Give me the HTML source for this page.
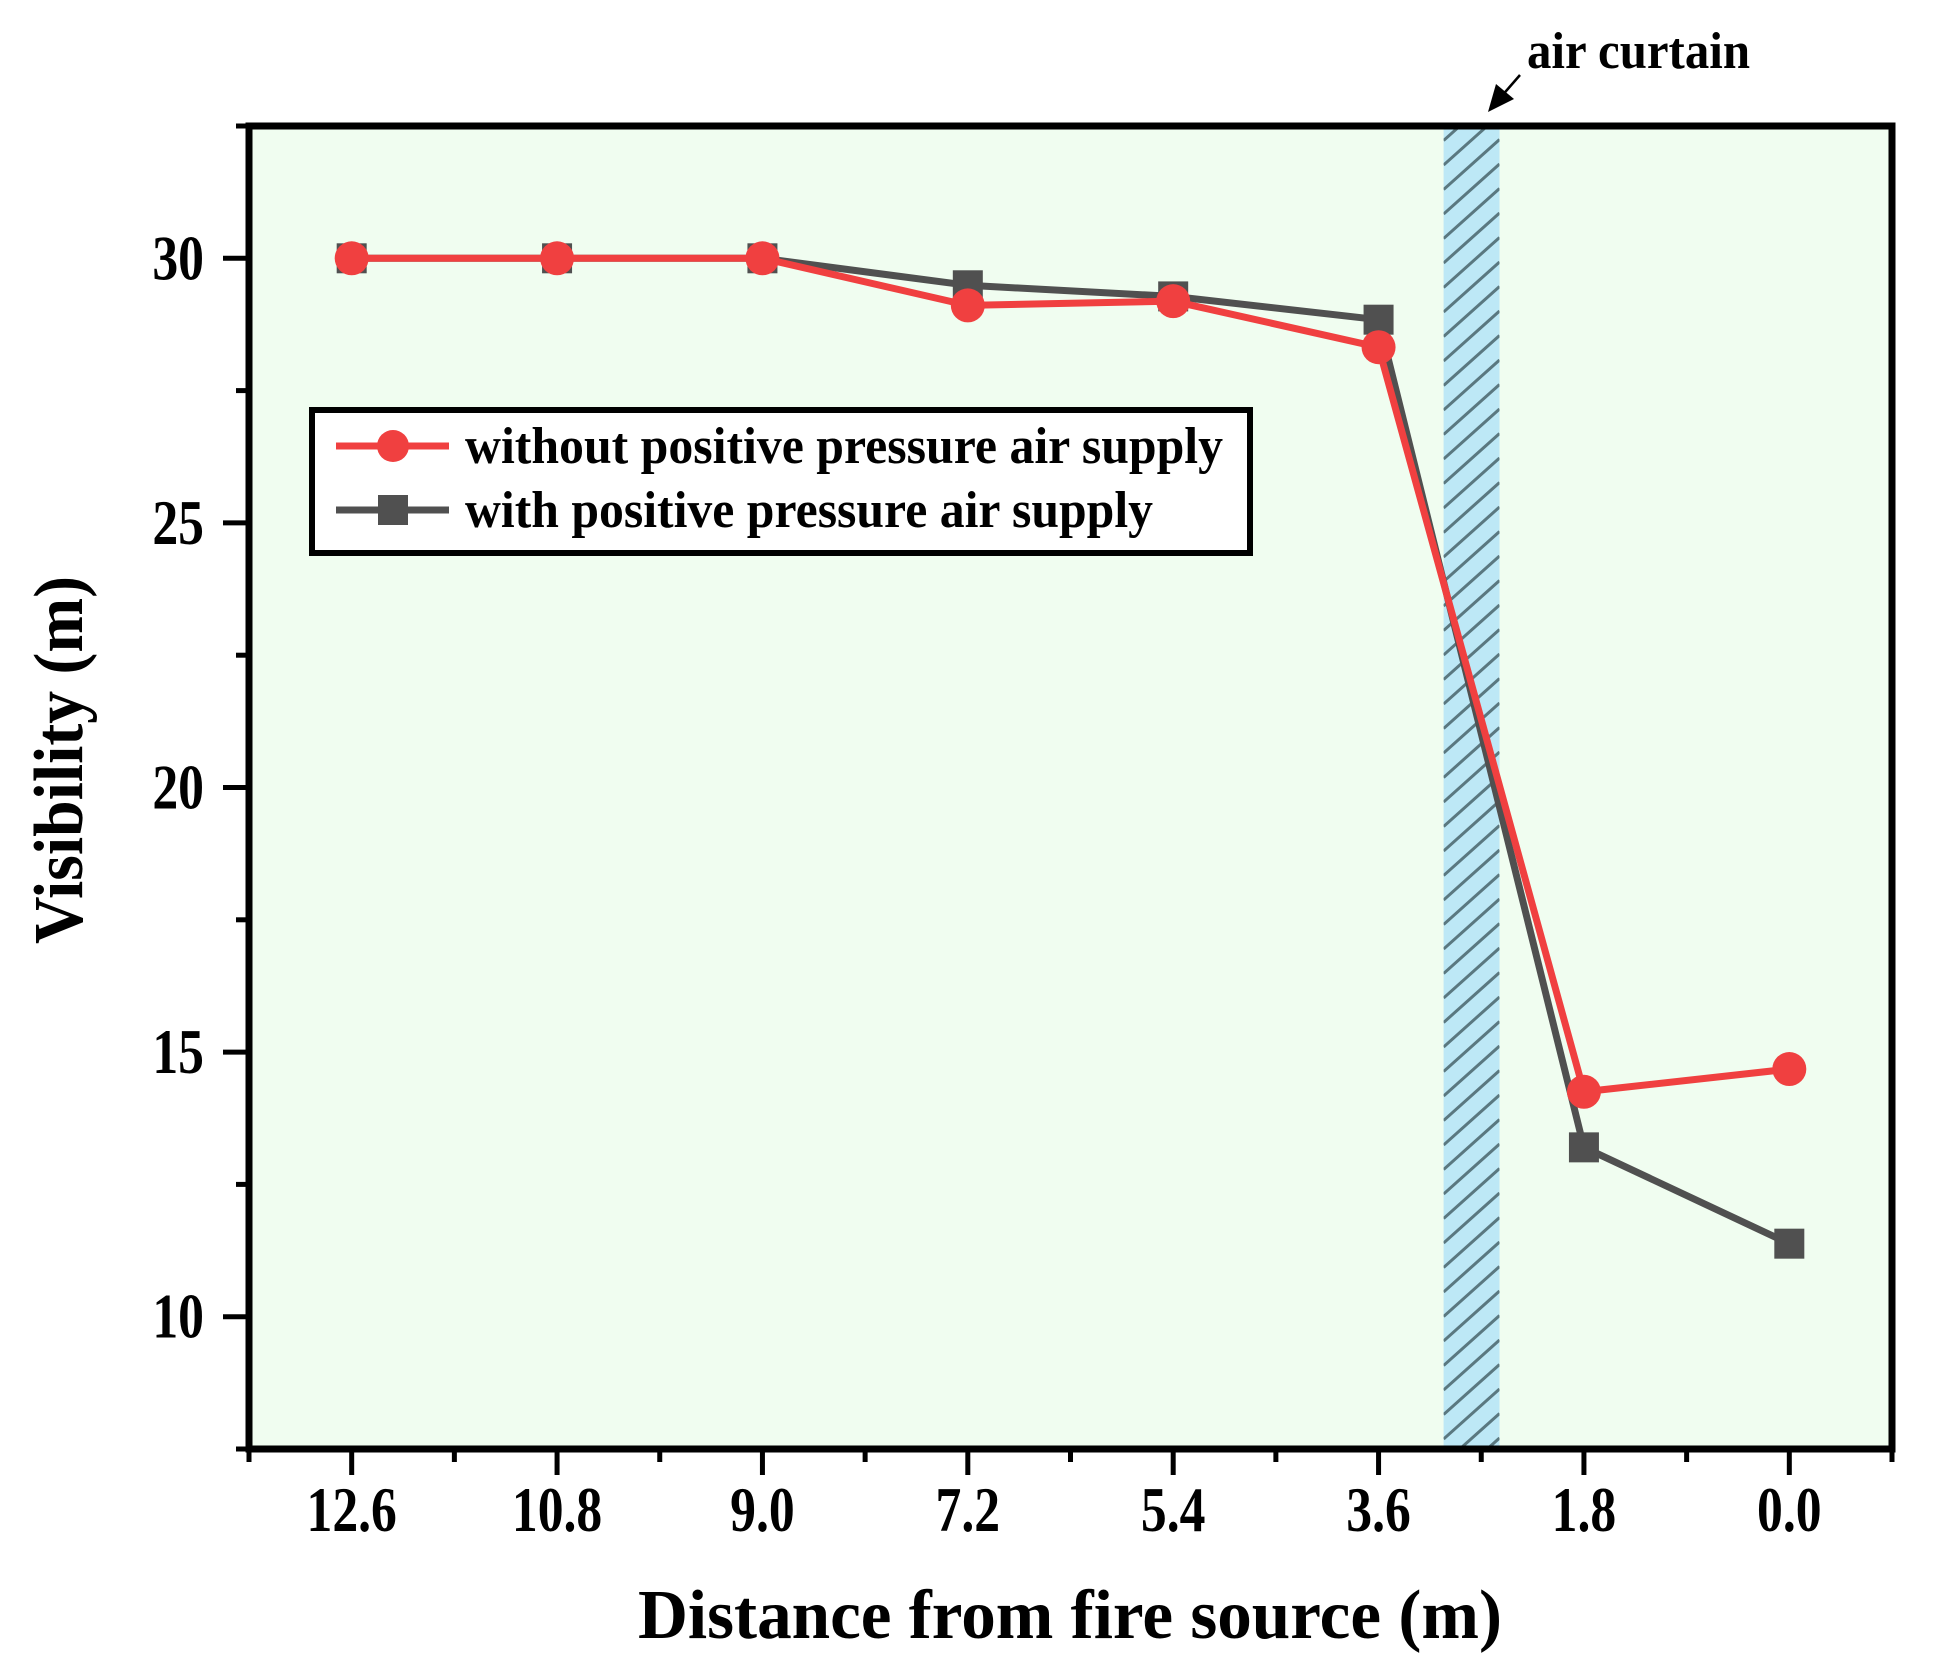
<!DOCTYPE html>
<html><head><meta charset="utf-8">
<style>
html,body{margin:0;padding:0;background:#fff;}
svg{display:block;}
text{font-family:"Liberation Serif","Times New Roman",serif;font-weight:bold;fill:#000;}
</style></head>
<body>
<svg id="chart" width="1934" height="1678" viewBox="0 0 1934 1678" xmlns="http://www.w3.org/2000/svg">
<defs>
<clipPath id="bandclip"><rect id="bandclipRect" x="0" y="0" width="0" height="0"/></clipPath>
</defs>
<g id="plot"></g>
</svg>
<script>
const categories = [12.6, 10.8, 9.0, 7.2, 5.4, 3.6, 1.8, 0.0];
const xTickLabels = ["12.6","10.8","9.0","7.2","5.4","3.6","1.8","0.0"];
const withoutSupply = [30.0, 30.0, 30.0, 29.11, 29.19, 28.32, 14.25, 14.68];
const withSupply = [30.0, 30.0, 30.0, 29.49, 29.28, 28.84, 13.2, 11.38];
const yTicks = [10, 15, 20, 25, 30];
const yMinorTicks = [12.5, 17.5, 22.5, 27.5];
const xMinorTicks = [13.5, 11.7, 9.9, 8.1, 6.3, 4.5, 2.7, 0.9, -0.9];
const curtainRange = [3.03, 2.54];

const L=249, R=1892, T=126, B=1449;
const xMin=13.5, xMax=-0.9, yMin=7.5, yMax=32.5;
const X = v => L + (v - xMin) / (xMax - xMin) * (R - L);
const Y = v => B - (v - yMin) / (yMax - yMin) * (B - T);
const NS="http://www.w3.org/2000/svg";
const g=document.getElementById('plot');
function mk(tag, attrs, parent){const e=document.createElementNS(NS,tag);for(const k in attrs)e.setAttribute(k,attrs[k]);(parent||g).appendChild(e);return e;}

let bg=mk('rect',{x:L,y:T,width:R-L,height:B-T,fill:'#f0fdf0'});



const bx1=X(curtainRange[0]), bx2=X(curtainRange[1]);
let band=mk('rect',{x:bx1,y:T,width:bx2-bx1,height:B-T,fill:'#bde8f6'});


const cr=document.getElementById('bandclipRect');
cr.setAttribute('x',bx1);cr.setAttribute('y',T);cr.setAttribute('width',bx2-bx1);cr.setAttribute('height',B-T);
let hg=mk('g',{'clip-path':'url(#bandclip)'});


for(let y0=T-60;y0<B+80;y0+=24.5){
  mk('line',{x1:bx1,y1:y0+50,x2:bx2,y2:y0,stroke:'#5a7880','stroke-width':3},hg);
}

function series(vals,color,marker,name){
  const pts=categories.map((c,i)=>X(c)+','+Y(vals[i])).join(' ');
  let pl=mk('polyline',{points:pts,fill:'none',stroke:color,'stroke-width':7,'stroke-linejoin':'miter'});
  
  
  categories.forEach((c,i)=>{
    let m;
    if(marker==='circle') m=mk('circle',{cx:X(c),cy:Y(vals[i]),r:17,fill:color});
    else m=mk('rect',{x:X(c)-15,y:Y(vals[i])-15,width:30,height:30,fill:color});
    
    
  });
}
series(withSupply,'#505050','square','with-supply');
series(withoutSupply,'#f04040','circle','without-supply');

let fr=mk('rect',{x:L,y:T,width:R-L,height:B-T,fill:'none',stroke:'#000','stroke-width':7});



function sx(txt,x,y,size,anchor,sc){
  let lb=mk('text',{x:0,y:0,'text-anchor':anchor,'font-size':size,transform:`translate(${x},${y}) scale(${sc},1)`});
  lb.textContent=txt; return lb;
}
yTicks.forEach(v=>{
  let t=mk('line',{x1:L-26,y1:Y(v),x2:L,y2:Y(v),stroke:'#000','stroke-width':5});
  
  
  let lb=sx(String(v),204,Y(v)+21,63,'end',0.82);
  
  
});
yMinorTicks.forEach(v=>{
  let t=mk('line',{x1:L-13,y1:Y(v),x2:L,y2:Y(v),stroke:'#000','stroke-width':5});
  
  
});
[yMin,yMax].forEach(v=>{mk('line',{x1:L-13,y1:Y(v),x2:L,y2:Y(v),stroke:'#000','stroke-width':5});});
categories.forEach((c,i)=>{
  let t=mk('line',{x1:X(c),y1:B,x2:X(c),y2:B+26,stroke:'#000','stroke-width':5});
  
  
  let lb=sx(xTickLabels[i],X(c),1531,63,'middle',0.82);
  
  
});
xMinorTicks.forEach(v=>{
  let t=mk('line',{x1:X(v),y1:B,x2:X(v),y2:B+13,stroke:'#000','stroke-width':5});
  
  
});

let xt=mk('text',{x:1070,y:1638,'text-anchor':'middle','font-size':70,textLength:864,lengthAdjust:'spacingAndGlyphs'});
xt.textContent='Distance from fire source (m)';


let yt=mk('text',{x:0,y:0,'text-anchor':'middle','font-size':70,transform:'translate(82,760) rotate(-90)',textLength:368,lengthAdjust:'spacingAndGlyphs'});
yt.textContent='Visibility (m)';



let at=mk('text',{x:1527,y:68,'font-size':52,textLength:223,lengthAdjust:'spacingAndGlyphs'});
at.textContent='air curtain';


let al=mk('line',{x1:1520,y1:75,x2:1500,y2:98,stroke:'#000','stroke-width':2.5});


let ah=mk('polygon',{points:'1488,112 1496,84 1514,99',fill:'#000'});



let lg=mk('g',{});


mk('rect',{x:312,y:410,width:938,height:143,fill:'#fff',stroke:'#000','stroke-width':6},lg);
let e1=mk('g',{},lg);


mk('line',{x1:336,y1:446,x2:449,y2:446,stroke:'#f04040','stroke-width':7},e1);
mk('circle',{cx:393,cy:446,r:16,fill:'#f04040'},e1);
let t1=mk('text',{x:465,y:463,'font-size':52,textLength:758,lengthAdjust:'spacingAndGlyphs'},e1);
t1.textContent='without positive pressure air supply';
let e2=mk('g',{},lg);


mk('line',{x1:336,y1:510,x2:449,y2:510,stroke:'#505050','stroke-width':7},e2);
mk('rect',{x:378,y:495,width:30,height:30,fill:'#505050'},e2);
let t2=mk('text',{x:465,y:527,'font-size':52,textLength:688,lengthAdjust:'spacingAndGlyphs'},e2);
t2.textContent='with positive pressure air supply';
</script>
</body></html>
